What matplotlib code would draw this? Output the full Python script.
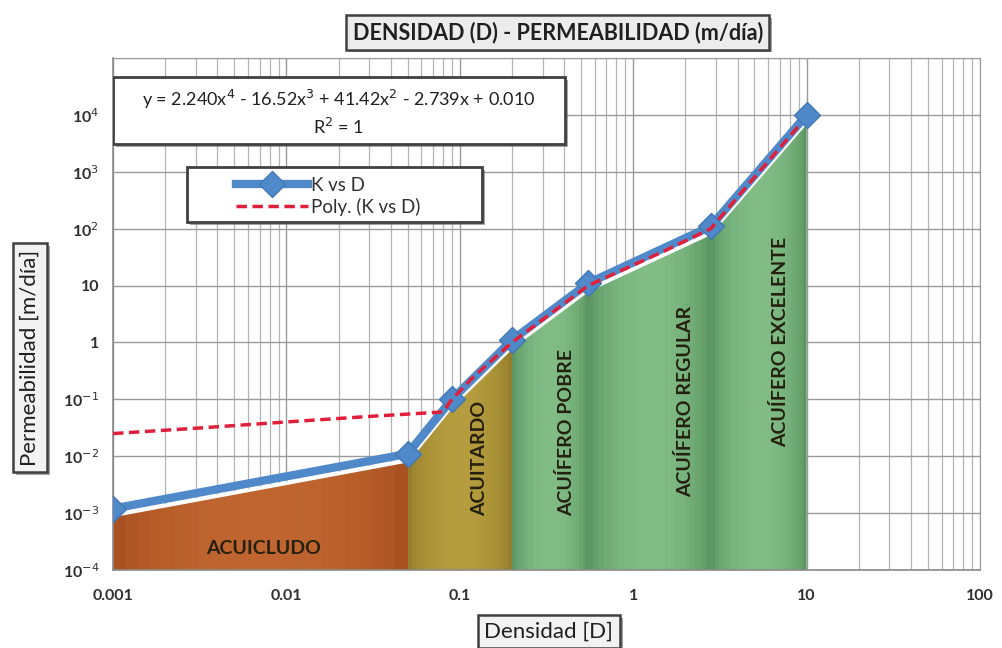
import numpy as np
import matplotlib
matplotlib.use("Agg")
import matplotlib.pyplot as plt
import matplotlib.patheffects as pe
from matplotlib.patches import Rectangle, Polygon
from matplotlib.transforms import offset_copy
from matplotlib.ticker import FixedLocator, FixedFormatter, LogLocator, NullFormatter
from matplotlib.colors import to_rgb

plt.rcParams['font.family'] = ['Lato', 'DejaVu Sans']

# - Data: densidad (D) vs permeabilidad K (m/dia)
densidad = [0.001, 0.05, 0.09, 0.2, 0.55, 2.8, 10]
permeabilidad = [0.0012, 0.011, 0.1, 1.1, 11, 110, 10000]

# - Polynomial trend line as drawn by the spreadsheet
densidad_poly = [0.001, 0.003, 0.01, 0.03, 0.08, 0.09, 0.12, 0.2, 0.55, 1.5, 2.8, 5, 9.3]
permeabilidad_poly = [0.025, 0.031, 0.040, 0.050, 0.060, 0.1, 0.25, 1.0, 10, 40, 100, 800, 7200]

# - Classification zones
zonas = ['ACUICLUDO', 'ACUITARDO', 'ACUÍFERO POBRE', 'ACUÍFERO REGULAR', 'ACUÍFERO EXCELENTE']
zona_limites = [(0.001, 0.05), (0.05, 0.2), (0.2, 0.55), (0.55, 2.8), (2.8, 10)]
zona_colores = [('#c06530', '#a24a1c'), ('#b59c3e', '#8a7424'), ('#80bc84', '#4f8a58'),
                ('#80bc84', '#4f8a58'), ('#80bc84', '#4f8a58')]
zona_texto_pos = [(0.0074, 2.4e-4, 0), (0.13, 0.009, 90), (0.41, 0.026, 90),
                  (2.0, 0.09, 90), (7.0, 1.0, 90)]

ecuacion = 'y = 2.240x$^4$ - 16.52x$^3$ + 41.42x$^2$ - 2.739x + 0.010\nR$^2$ = 1'

x_ticks = [0.001, 0.01, 0.1, 1, 10, 100]
x_labels = ['0.001', '0.01', '0.1', '1', '10', '100']
y_ticks = [1e-4, 1e-3, 1e-2, 1e-1, 1, 10, 1e2, 1e3, 1e4, 1e5]
y_labels = ['10$^{-4}$', '10$^{-3}$', '10$^{-2}$', '10$^{-1}$', '1', '10',
            '10$^{2}$', '10$^{3}$', '10$^{4}$', '']

fig = plt.figure(figsize=(10.03, 6.48), dpi=100)
ax = fig.add_axes([0.1127, 0.1204, 0.8644, 0.7901])
ax.set_xscale('log')
ax.set_yscale('log')
ax.set_xlim(0.001, 100)
ax.set_ylim(1e-4, 1e5)

# -- Grid
ax.xaxis.set_minor_locator(LogLocator(base=10, subs=np.arange(2, 10), numticks=20))
ax.xaxis.set_minor_formatter(NullFormatter())
ax.yaxis.set_minor_locator(FixedLocator([]))
ax.grid(which='major', color='#9a9a9a', lw=1.0)
ax.grid(which='minor', axis='x', color='#b4b4b4', lw=0.9)
ax.set_axisbelow(True)

# -- Area under the curve, shifted a few pixels down, used as clip path
shift = offset_copy(ax.transData, fig=fig, x=0, y=-7, units='dots')
ymin = ax.get_ylim()[0]
verts = list(zip(densidad, permeabilidad)) + [(densidad[-1], ymin / 10), (densidad[0], ymin / 10)]
area = Polygon(verts, closed=True, facecolor='none', edgecolor='none', transform=shift)
ax.add_patch(area)

# -- Zone bands with a horizontal shading
for (x0, x1), (c_mid, c_edge) in zip(zona_limites, zona_colores):
    edges = np.logspace(np.log10(x0), np.log10(x1), 25)
    mid, edge = np.array(to_rgb(c_mid)), np.array(to_rgb(c_edge))
    for i in range(len(edges) - 1):
        t = (i + 0.5) / (len(edges) - 1)
        f = np.sin(np.pi * t) ** 0.5
        band = ax.axvspan(edges[i], edges[i + 1], color=edge + (mid - edge) * f, lw=0, zorder=1)
        band.set_clip_path(area)

for nombre, (xt, yt, rot) in zip(zonas, zona_texto_pos):
    ax.text(xt, yt, nombre, rotation=rot, ha='center', va='center', fontsize=14,
            fontweight='bold', color='#25200f', zorder=3)

# -- Curves
ax.plot(densidad, permeabilidad, color='white', lw=2.4, transform=shift, zorder=4)
ax.plot(densidad, permeabilidad, color='#5089c9', lw=6, marker='D', ms=13,
        mec='#3f76b6', mfc='#5089c9', zorder=5, label='K vs D')
ax.plot(densidad_poly, permeabilidad_poly, color='#e0203a', lw=2.5, ls=(0, (3, 1.6)),
        zorder=6, label='Poly. (K vs D)')

# -- Ticks and spines
ax.xaxis.set_major_locator(FixedLocator(x_ticks))
ax.xaxis.set_major_formatter(FixedFormatter(x_labels))
ax.yaxis.set_major_locator(FixedLocator(y_ticks))
ax.yaxis.set_major_formatter(FixedFormatter(y_labels))
ax.tick_params(which='both', length=0)
ax.tick_params(axis='x', pad=14, labelsize=11.5, labelcolor='#303030')
ax.tick_params(axis='y', pad=10, labelsize=11.5, labelcolor='#303030')
for lab in ax.get_xticklabels() + ax.get_yticklabels():
    lab.set_fontweight('bold')
for border in ('top', 'right'):
    ax.spines[border].set_color('#9a9a9a')
for border in ('left', 'bottom'):
    ax.spines[border].set_color('#8a8a8a')
    ax.spines[border].set_linewidth(1.2)

shadow = [pe.SimplePatchShadow(offset=(2, -2), alpha=0.5), pe.Normal()]

# -- Equation box
eq_box = Rectangle((0.0, 0.832), 0.521, 0.131, transform=ax.transAxes, facecolor='white',
                   edgecolor='#404040', lw=2, zorder=7)
eq_box.set_path_effects(shadow)
ax.add_patch(eq_box)
ax.text(0.26, 0.893, ecuacion, transform=ax.transAxes, ha='center', va='center',
        fontsize=13, color='#202020', linespacing=1.35, zorder=8)

# -- Legend box
leg_box = Rectangle((0.085, 0.68), 0.341, 0.107, transform=ax.transAxes, facecolor='white',
                    edgecolor='#404040', lw=2, zorder=7)
leg_box.set_path_effects(shadow)
ax.add_patch(leg_box)
leg = ax.legend(loc='upper left', bbox_to_anchor=(0.125, 0.797), frameon=False,
                fontsize=13.5, handlelength=3.8, handletextpad=0.2, labelspacing=0.2,
                borderpad=0.3)
leg.set_zorder(8)
for t in leg.get_texts():
    t.set_color('#303030')

# -- Title and axis labels in boxes
box_style = dict(boxstyle='square,pad=0.3', facecolor='#ececec', edgecolor='#404040', lw=1.8)
title = fig.text(0.556, 0.950, 'DENSIDAD (D) - PERMEABILIDAD (m/día)', ha='center', va='center',
                 fontsize=15.5, fontweight='bold', color='#202020', bbox=box_style)
xlab = fig.text(0.547, 0.025, 'Densidad [D]', ha='center', va='center', fontsize=16,
                color='#202020', bbox=dict(box_style, facecolor='#f2f2f2'))
ylab = fig.text(0.03, 0.448, 'Permeabilidad [m/día]', ha='center', va='center', rotation=90,
                fontsize=16, color='#202020', bbox=dict(box_style, facecolor='#f2f2f2'))
for t in (title, xlab, ylab):
    t.get_bbox_patch().set_path_effects(shadow)

fig.savefig('out.png', dpi=100, facecolor='white')
